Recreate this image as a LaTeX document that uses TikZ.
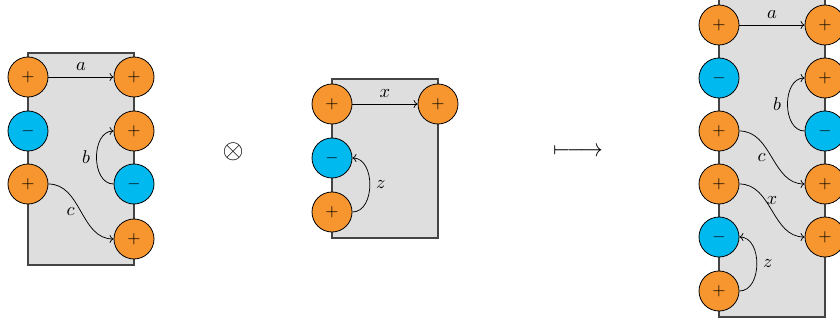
\documentclass[tikz,border=0pt]{standalone}
\usepackage{graphicx}
\usetikzlibrary{arrows.meta}
\definecolor{plusfill}{HTML}{F7962F}
\definecolor{minusfill}{HTML}{00B9EE}
\definecolor{boxfill}{HTML}{DEDEDE}
\definecolor{boxline}{HTML}{444444}
% enlarged math symbols
\newcommand{\sym}[1]{\scalebox{1.85}{$#1$}}
\newcommand{\portsym}[1]{\scalebox{1.7}{$#1$}}
\begin{document}
\begin{tikzpicture}[x=1pt,y=-1pt,
  every node/.style={inner sep=6pt},
  port/.style={circle,draw=black,line width=0.8pt,minimum size=40pt,inner sep=0pt},
  plusport/.style={port,fill=plusfill,label={center:\portsym{+}}},
  minusport/.style={port,fill=minusfill,label={center:\portsym{-}}},
  panel/.style={draw=boxline,fill=boxfill,line width=1.1pt},
  wire/.style={line width=0.75pt,-{To[length=4pt,width=8pt]}}]
\useasboundingbox (0,0) rectangle (840,323);

% first factor
\draw[panel] (28,53) rectangle (134,265);
\node[plusport] (Ll1) at (28,77) {};
\node[minusport] (Ll2) at (28,131) {};
\node[plusport] (Ll3) at (28,184) {};
\node[plusport] (Lr1) at (134,77) {};
\node[plusport] (Lr2) at (134,131) {};
\node[minusport] (Lr3) at (134,184) {};
\node[plusport] (Lr4) at (134,239) {};
\draw[wire] (Ll1.east) -- node[midway,above] {\sym{a}} (Lr1.west);
\draw[wire] (Lr3.west) to[out=180,in=180,looseness=1.1] node[midway,left] {\sym{b}} (Lr2.west);
\draw[wire] (Ll3.east) to[out=0,in=180] node[midway,left] {\sym{c}} (Lr4.west);

% tensor sign
\node (tensor) at (233,152) {\scalebox{2.7}{$\otimes$}};

% second factor
\draw[panel] (332,79) rectangle (438,238);
\node[plusport] (Ml1) at (332,104) {};
\node[minusport] (Ml2) at (332,158) {};
\node[plusport] (Ml3) at (332,212) {};
\node[plusport] (Mr1) at (438,104) {};
\draw[wire] (Ml1.east) -- node[midway,above] {\sym{x}} (Mr1.west);
\draw[wire] (Ml3.east) to[out=0,in=0,looseness=1.1] node[midway,right] {\sym{z}} (Ml2.east);

% maps-to sign, a long one
\node (mapsto) at (578,152)
  {\scalebox{2.25}[2.5]{$\mapstochar\relbar\joinrel\relbar\joinrel\rightarrow$}};

% result
\draw[panel] (719,-2) rectangle (825,317);
\node[plusport] (Rl1) at (719,25) {};
\node[minusport] (Rl2) at (719,78) {};
\node[plusport] (Rl3) at (719,131) {};
\node[plusport] (Rl4) at (719,184) {};
\node[minusport] (Rl5) at (719,237) {};
\node[plusport] (Rl6) at (719,291) {};
\node[plusport] (Rr1) at (825,25) {};
\node[plusport] (Rr2) at (825,78) {};
\node[minusport] (Rr3) at (825,131) {};
\node[plusport] (Rr4) at (825,184) {};
\node[plusport] (Rr5) at (825,237) {};
\draw[wire] (Rl1.east) -- node[midway,above] {\sym{a}} (Rr1.west);
\draw[wire] (Rr3.west) to[out=180,in=180,looseness=1.1] node[midway,left] {\sym{b}} (Rr2.west);
\draw[wire] (Rl3.east) to[out=0,in=180] node[midway,left] {\sym{c}} (Rr4.west);
\draw[wire] (Rl4.east) to[out=0,in=180] node[midway,above] {\sym{x}} (Rr5.west);
\draw[wire] (Rl6.east) to[out=0,in=0,looseness=1.1] node[midway,right] {\sym{z}} (Rl5.east);
\end{tikzpicture}
\end{document}
